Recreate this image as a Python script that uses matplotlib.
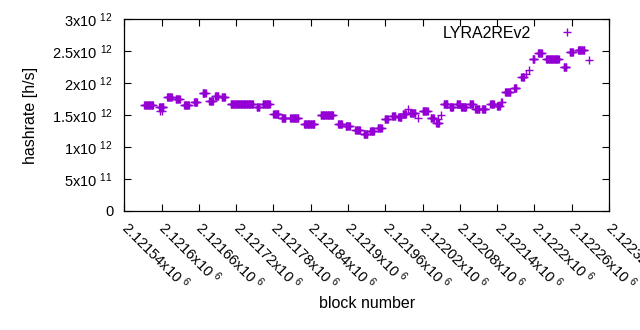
import numpy as np
import matplotlib
matplotlib.use("Agg")
import matplotlib.pyplot as plt

plt.rcParams['font.family'] = ['Liberation Sans', 'DejaVu Sans']
plt.rcParams['mathtext.fontset'] = 'custom'
plt.rcParams['mathtext.rm'] = 'Liberation Sans'
plt.rcParams['mathtext.it'] = 'Liberation Sans'

# hashrate estimate, constant over runs of blocks (block offset from 2121540, h/s in 1e12)
seg_start = [32, 56, 58, 61, 69, 83, 96, 112, 126, 137, 146, 157, 171, 213, 223, 240,
             253, 267, 289, 316, 344, 356, 372, 385, 396, 408, 419, 431, 441, 448,
             456, 460, 472, 480, 493, 502, 505, 509, 514, 524, 535, 542, 556, 565,
             576, 589, 600, 606, 613, 627, 639, 647, 651, 657, 666, 679, 707, 717,
             730, 748]
seg_end = [46, 63, 58, 61, 76, 89, 104, 117, 131, 142, 151, 162, 207, 217, 234, 248,
           259, 280, 306, 336, 350, 363, 379, 391, 402, 414, 424, 436, 446, 453,
           456, 468, 472, 488, 498, 506, 505, 509, 520, 529, 540, 550, 561, 571,
           581, 595, 604, 607, 621, 631, 643, 647, 651, 660, 672, 699, 711, 722,
           740, 748]
seg_rate = [1.66, 1.63, 1.56, 1.56, 1.79, 1.75, 1.65, 1.71, 1.84, 1.72, 1.80, 1.78,
            1.67, 1.63, 1.68, 1.51, 1.46, 1.46, 1.36, 1.50, 1.36, 1.32, 1.26, 1.21,
            1.25, 1.30, 1.43, 1.49, 1.47, 1.51, 1.60, 1.53, 1.46, 1.56, 1.45, 1.37,
            1.44, 1.50, 1.68, 1.62, 1.68, 1.63, 1.67, 1.60, 1.59, 1.68, 1.64, 1.71,
            1.86, 1.93, 2.09, 2.14, 2.20, 2.37, 2.47, 2.37, 2.26, 2.48, 2.52, 2.36]

blocks = []
rates = []
for s, e, r in zip(seg_start, seg_end, seg_rate):
    for b in range(s, e + 1):
        blocks.append(2121540 + b)
        rates.append(r * 1e12)

xtick_vals = [2121540 + 60 * i for i in range(14)]
xtick_labels = ['2.12154', '2.1216', '2.12166', '2.12172', '2.12178', '2.12184', '2.1219',
                '2.12196', '2.12202', '2.12208', '2.12214', '2.1222', '2.12226', '2.12232']
ytick_vals = [0, 0.5e12, 1e12, 1.5e12, 2e12, 2.5e12, 3e12]
ytick_labels = ['0', '5x10 $^{11}$', '1x10 $^{12}$', '1.5x10 $^{12}$', '2x10 $^{12}$',
                '2.5x10 $^{12}$', '3x10 $^{12}$']

fig = plt.figure(figsize=(6.4, 3.3), dpi=100)
ax = fig.add_axes([0.1942, 0.3615, 0.9516 - 0.1942, 0.9415 - 0.3615])

ax.plot(blocks, rates, linestyle='none', marker='+', markersize=6, markeredgewidth=1,
        color='#9400d3', label='LYRA2REv2')

ax.set_xlim(2121540, 2122320)
ax.set_ylim(0, 3e12)
ax.set_xticks(xtick_vals)
ax.set_xticklabels([l + 'x10 $^{6}$' for l in xtick_labels], rotation=-45,
                   ha='left', va='center', rotation_mode='anchor', fontsize=10.5)
ax.set_yticks(ytick_vals)
ax.set_yticklabels(ytick_labels, fontsize=10.5)
ax.tick_params(direction='in', length=5, top=True, right=True, width=0.8)
ax.tick_params(axis='x', pad=10)
ax.tick_params(axis='y', pad=8)
for sp in ax.spines.values():
    sp.set_linewidth(0.9)

ax.set_xlabel('block number', fontsize=11.5, labelpad=2)
ax.set_ylabel('hashrate [h/s]', fontsize=11.5, labelpad=10)

ax.legend(loc='upper right', frameon=False, markerfirst=False, fontsize=11.5,
          handlelength=1.5, handletextpad=1.5, borderpad=0.3, borderaxespad=0,
          bbox_to_anchor=(0.948, 0.99))

fig.savefig('out.png', dpi=100)
